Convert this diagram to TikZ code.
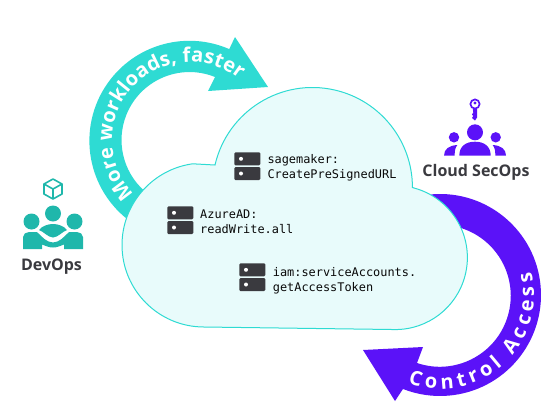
\documentclass[tikz,border=0pt]{standalone}
\usepackage{fontspec}
\usetikzlibrary{decorations.text}
\setmonofont{DejaVu Sans Mono}
\newfontfamily\lblfont{Open Sans}[BoldFont={Open Sans Bold}]
\newcommand{\arrowfont}{\lblfont\bfseries\fontsize{20}{22}\selectfont}
\definecolor{arrowteal}{RGB}{46,219,211}
\definecolor{iconteal}{RGB}{31,183,171}
\definecolor{violet}{RGB}{91,18,248}
\definecolor{cloudfill}{RGB}{232,251,251}
\definecolor{ink}{RGB}{58,58,63}
\tikzset{
  serverbar/.style={fill=ink,rounded corners=1.2pt},
  serverdot/.style={fill=white},
  perm/.style={font=\ttfamily\fontsize{11.9}{15}\selectfont,text=black!85!ink,align=left,inner sep=0pt,anchor=west},
  team/.style={font=\lblfont\bfseries\fontsize{16}{18}\selectfont,text=ink,inner sep=0pt,anchor=base},
}
\newcommand{\serverstack}[2]{%
  \fill[serverbar] (#1,#2) rectangle ++(26,13);
  \fill[serverbar] (#1,#2+14.7) rectangle ++(26,13);
  \fill[serverdot] (#1+6.7,#2+6.5) circle (2);
  \fill[serverdot] (#1+6.7,#2+21.2) circle (2);
}
\begin{document}
\begin{tikzpicture}[x=1pt,y=-1pt]
\useasboundingbox (0,0) rectangle (541,416);
% teal arrow
\fill[arrowteal] (190,140)+(128:101) arc[start angle=128,end angle=293.5,radius=100]
  -- (235,37) -- (268,87) -- (208,91) -- (215,77)
  arc[start angle=292,end angle=132,radius=68] -- cycle;
% violet arrow
\fill[violet] (440,295)+(-95:101) arc[start angle=-95,end angle=111.5,radius=101]
  -- (395,401) -- (363,350) -- (423,347) -- (417,363)
  arc[start angle=108.7,end angle=-85,radius=71] -- cycle;
% cloud
\path[fill=cloudfill,draw=arrowteal,line width=1pt]
  (215,165) arc[start angle=193,end angle=360,radius=100]
  -- (414,188) arc[start angle=-75,end angle=90,radius=72]
  -- (204,327) arc[start angle=90,end angle=262,radius=82] -- cycle;
% arrow labels
\path[decorate,decoration={text along path,text align=fit to path,
  text={|\arrowfont\color{white}|More workloads{,} faster}}]
  (190,140)+(136:78) arc[start angle=136,end angle=309,radius=78];
\path[decorate,decoration={text along path,text align=fit to path,
  text={|\arrowfont\color{white}|Control Access}}]
  (440,295)+(110:94) arc[start angle=110,end angle=-14,radius=94];
% servers
\serverstack{234.3}{152.3}
\serverstack{167.3}{206.3}
\serverstack{239.3}{263.3}
\node[perm] (sage) at (267.3,168) {sagemaker:\\CreatePreSignedURL};
\node[perm] (azure) at (200,221.5) {AzureAD:\\readWrite.all};
\node[perm] (iam) at (272.7,280.5) {iam:serviceAccounts.\\getAccessToken};
% DevOps icon
\draw[iconteal,line width=1.6pt,line join=round]
  (53,179) -- (62,184) -- (62,194) -- (53,199) -- (44,194) -- (44,184) -- cycle
  (44,184) -- (53,189) -- (62,184) (53,189) -- (53,199);
\fill[iconteal] (53,213.5) circle (8) (31.5,221.5) circle (8) (74.5,221.5) circle (8);
\fill[iconteal] (39,230) .. controls (42,226) and (48,224) .. (53,224)
  .. controls (58,224) and (64,226) .. (67,230)
  .. controls (63,231) and (58,237.5) .. (53,237.5)
  .. controls (48,237.5) and (43,231) .. (39,230) -- cycle;
\fill[iconteal] (23,249) -- (23,237) .. controls (23,234) and (26,232) .. (29,232)
  -- (37,232)
  .. controls (42,237) and (47,242.5) .. (53,242.5)
  .. controls (59,242.5) and (64,237) .. (69,232)
  -- (77,232) .. controls (80,232) and (83,234) .. (83,237)
  -- (83,249) -- (64,249) -- (64,244.5)
  .. controls (60,246) and (57,247.5) .. (53,247.5)
  .. controls (49,247.5) and (46,246) .. (42,244.5)
  -- (42,249) -- cycle;
\node[team] (devops) at (51.5,270) {DevOps};
% SecOps icon
\draw[violet,line width=1.7pt] (475,104) circle (4.6);
\fill[violet] (475,103) circle (1.6);
\fill[violet] (477,109) -- (477,117.5) -- (475,120.5) -- (472,118) -- (473.3,116) -- (472,114.5) -- (473.3,112.5) -- (472.8,109) -- cycle;
\fill[violet] (475,132.3) circle (8) (454,137.3) circle (5.2) (495.7,137.3) circle (5.2);
\fill[violet] (459.3,155.7) .. controls (459.3,146) and (466,141.7) .. (475,141.7)
  .. controls (484,141.7) and (490.7,146) .. (490.7,155.7) -- cycle;
\fill[violet] (444,155.7) .. controls (444,149) and (449,145.5) .. (457.3,145) .. controls (455,148) and (454.5,152) .. (454.5,155.7) -- cycle;
\fill[violet] (506,155.7) .. controls (506,149) and (501,145.5) .. (492.7,145) .. controls (495,148) and (495.5,152) .. (495.5,155.7) -- cycle;
\node[team] (secops) at (476,176) {Cloud SecOps};
\end{tikzpicture}
\end{document}
